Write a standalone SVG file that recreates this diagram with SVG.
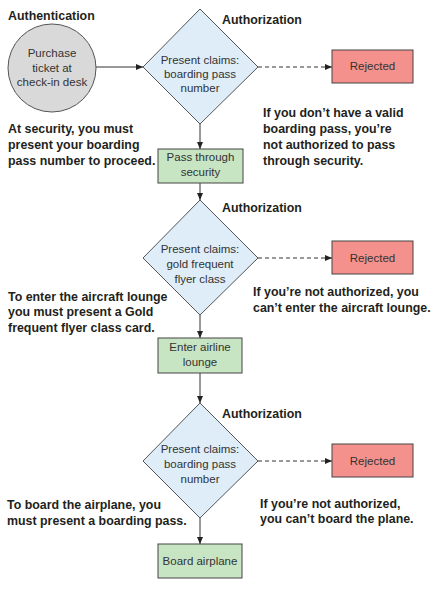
<svg xmlns="http://www.w3.org/2000/svg" width="442" height="592" viewBox="0 0 442 592">
<defs>
<marker id="ah" markerWidth="8" markerHeight="6" refX="7" refY="3" orient="auto" markerUnits="userSpaceOnUse">
<path d="M0,0 L7,3 L0,6 Z" fill="#222"/>
</marker>
<style>
.ann{font-family:"Liberation Sans",Arial,sans-serif;font-weight:bold;font-size:12.4px;fill:#231f20}
.lbl{font-family:"Liberation Sans",Arial,sans-serif;font-size:11.5px;fill:#333;text-anchor:middle}
.dia{fill:#deedf8;stroke:#555;stroke-width:1}
.grn{fill:#c8e5c3;stroke:#444;stroke-width:1}
.red{fill:#f4918d;stroke:#444;stroke-width:1}
.con{stroke:#333;stroke-width:1;fill:none;marker-end:url(#ah)}
.dash{stroke-dasharray:4 3}
</style>
</defs>
<rect width="442" height="592" fill="#fff"/>

<g id="connectors">
<line class="con" x1="96" y1="67" x2="143" y2="67"/>
<line class="con dash" x1="258" y1="67" x2="332" y2="67"/>
<line class="con" x1="200" y1="124" x2="200" y2="149"/>
<line class="con" x1="200" y1="183" x2="200" y2="200"/>
<line class="con dash" x1="258" y1="258" x2="332" y2="258"/>
<line class="con" x1="200" y1="315" x2="200" y2="338"/>
<line class="con" x1="200" y1="373" x2="200" y2="403"/>
<line class="con dash" x1="258" y1="461" x2="332" y2="461"/>
<line class="con" x1="200" y1="518" x2="200" y2="544"/>
</g>

<g id="purchase">
<circle cx="52" cy="68" r="44" fill="#d9d9d9" stroke="#555" stroke-width="1"/>
<text class="lbl" x="52" y="57">Purchase</text>
<text class="lbl" x="52" y="72">ticket at</text>
<text class="lbl" x="52" y="86">check-in desk</text>
</g>

<g id="claims1">
<polygon class="dia" points="200,9 258,67 200,124 143,67"/>
<text class="lbl" x="200" y="64">Present claims:</text>
<text class="lbl" x="200" y="78">boarding pass</text>
<text class="lbl" x="200" y="92">number</text>
</g>

<g id="rejected1">
<rect class="red" x="332" y="50" width="81" height="33"/>
<text class="lbl" x="372.5" y="70">Rejected</text>
</g>

<g id="security">
<rect class="grn" x="158" y="149" width="85" height="34"/>
<text class="lbl" x="200.5" y="161">Pass through</text>
<text class="lbl" x="200.5" y="176">security</text>
</g>

<g id="claims2">
<polygon class="dia" points="200,200 258,258 200,315 143,258"/>
<text class="lbl" x="200" y="253">Present claims:</text>
<text class="lbl" x="200" y="268">gold frequent</text>
<text class="lbl" x="200" y="283">flyer class</text>
</g>

<g id="rejected2">
<rect class="red" x="332" y="241" width="81" height="33"/>
<text class="lbl" x="372.5" y="262">Rejected</text>
</g>

<g id="lounge">
<rect class="grn" x="158" y="338" width="84" height="35"/>
<text class="lbl" x="200" y="351">Enter airline</text>
<text class="lbl" x="200" y="366">lounge</text>
</g>

<g id="claims3">
<polygon class="dia" points="200,403 258,461 200,518 143,461"/>
<text class="lbl" x="200" y="453">Present claims:</text>
<text class="lbl" x="200" y="468">boarding pass</text>
<text class="lbl" x="200" y="483">number</text>
</g>

<g id="rejected3">
<rect class="red" x="332" y="444" width="81" height="33"/>
<text class="lbl" x="372.5" y="465">Rejected</text>
</g>

<g id="board">
<rect class="grn" x="158" y="544" width="84" height="34"/>
<text class="lbl" x="200" y="565">Board airplane</text>
</g>

<g id="annotations">
<text class="ann" x="8" y="19.5">Authentication</text>
<text class="ann" x="222" y="23.5">Authorization</text>
<text class="ann" x="222" y="211.5">Authorization</text>
<text class="ann" x="222" y="417.5">Authorization</text>
<text class="ann" x="8" y="132.5">At security, you must</text>
<text class="ann" x="8" y="148.5">present your boarding</text>
<text class="ann" x="8" y="164.5">pass number to proceed.</text>
<text class="ann" x="263" y="117">If you don’t have a valid</text>
<text class="ann" x="263" y="133">boarding pass, you’re</text>
<text class="ann" x="263" y="149">not authorized to pass</text>
<text class="ann" x="263" y="165">through security.</text>
<text class="ann" x="8" y="300.5">To enter the aircraft lounge</text>
<text class="ann" x="8" y="316">you must present a Gold</text>
<text class="ann" x="8" y="331.5">frequent flyer class card.</text>
<text class="ann" x="253" y="295.5">If you’re not authorized, you</text>
<text class="ann" x="253" y="311.5">can’t enter the aircraft lounge.</text>
<text class="ann" x="7" y="508.5">To board the airplane, you</text>
<text class="ann" x="7" y="524.5">must present a boarding pass.</text>
<text class="ann" x="260" y="507.5">If you’re not authorized,</text>
<text class="ann" x="260" y="523">you can’t board the plane.</text>
</g>
</svg>
